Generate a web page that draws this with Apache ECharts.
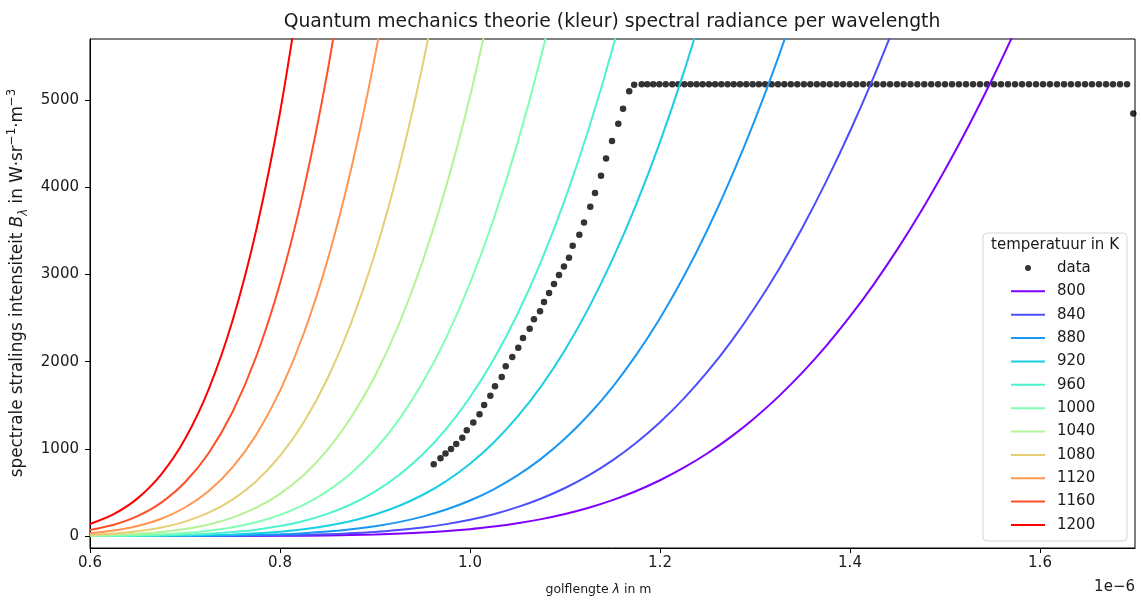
<!DOCTYPE html>
<html lang="nl">
<head>
<meta charset="UTF-8">
<title>Quantum mechanics theorie (kleur) spectral radiance per wavelength</title>
<script src="https://cdn.jsdelivr.net/npm/echarts@6/dist/echarts.min.js"></script>
<style>html,body{margin:0;padding:0;background:#fff;}</style>
</head>
<body>
<div id="main" style="width:1141px;height:601px;"></div>
<script>
// temperaturen (K) en kleuren (rainbow colormap)
var temps = ['800', '840', '880', '920', '960', '1000', '1040', '1080', '1120', '1160', '1200'];
var colors = ['#8000ff', '#4d4ffc', '#1a96f3', '#1acee3', '#4df3ce', '#80ffb4',
              '#b3f396', '#e6ce74', '#ff964f', '#ff4f28', '#ff0000'];

var lam800 = [0.6, 0.7, 0.8, 0.85, 0.9, 0.95, 1.0, 1.025, 1.05, 1.075, 1.1, 1.125, 1.15, 1.175, 1.2,
              1.225, 1.25, 1.275, 1.3, 1.325, 1.35, 1.375, 1.4, 1.425, 1.45, 1.475, 1.5, 1.525, 1.55, 1.575];
var rad800 = [0.006, 0.21, 2.7, 7.5, 18.2, 39.8, 79.4, 108.9, 146.5, 194, 253, 325.2, 412.4, 516.6, 639.7,
              783.5, 949.8, 1140.7, 1357.7, 1602, 1876.5, 2181, 2518, 2887, 3290, 3727, 4200, 4705, 5247, 5824];

var lam840 = [0.6, 0.7, 0.8, 0.85, 0.9, 0.925, 0.95, 0.975, 1.0, 1.025, 1.05, 1.075, 1.1, 1.125,
              1.15, 1.175, 1.2, 1.225, 1.25, 1.275, 1.3, 1.325, 1.35, 1.375, 1.4, 1.425, 1.45];
var rad840 = [0.03, 0.7, 7.9, 20.5, 47.2, 68.9, 98.1, 136.8, 187.1, 251, 331.3, 430.5, 551.1, 696.3,
              868.5, 1070.7, 1305.8, 1576, 1884.5, 2233, 2624, 3058, 3539, 4067, 4642, 5266, 5939];

var lam880 = [0.6, 0.7, 0.75, 0.8, 0.825, 0.85, 0.875, 0.9, 0.925, 0.95, 0.975, 1.0, 1.025,
              1.05, 1.075, 1.1, 1.125, 1.15, 1.175, 1.2, 1.225, 1.25, 1.275, 1.3, 1.325, 1.35];
var rad880 = [0.1, 2.2, 7.4, 20.9, 33.2, 51.3, 76.9, 112.2, 159.8, 222.7, 304.1, 407.5, 536.6,
              695.4, 888, 1118.5, 1391, 1709, 2077, 2498, 2976, 3513, 4113, 4775, 5504, 6301];

var lam920 = [0.6, 0.65, 0.7, 0.75, 0.775, 0.8, 0.825, 0.85, 0.875, 0.9, 0.925, 0.95, 0.975, 1.0,
              1.025, 1.05, 1.075, 1.1, 1.125, 1.15, 1.175, 1.2, 1.225, 1.25];
var rad920 = [0.32, 1.6, 6.1, 19.0, 31.7, 50.7, 78.7, 118.3, 173.2, 247.1, 344.7, 470.7, 630.5, 829.6,
              1073.6, 1368.6, 1720, 2134.5, 2617, 3172, 3804, 4518, 5317, 6204];

var lam960 = [0.6, 0.625, 0.65, 0.675, 0.7, 0.725, 0.75, 0.775, 0.8, 0.825, 0.85, 0.875, 0.9, 0.925,
              0.95, 0.975, 1.0, 1.025, 1.05, 1.075, 1.1, 1.125, 1.15, 1.175];
var rad960 = [0.94, 2.1, 4.3, 8.3, 15.4, 27, 45.4, 73.4, 114.6, 173.3, 254.7, 364.7, 509.8, 697.2,
              934.5, 1230, 1592, 2027, 2546, 3154, 3860, 4670, 5589, 6623];

var lam1000 = [0.6, 0.625, 0.65, 0.675, 0.7, 0.725, 0.75, 0.775, 0.8, 0.825, 0.85, 0.875, 0.9, 0.925,
               0.95, 0.975, 1.0, 1.025, 1.05, 1.075, 1.1];
var rad1000 = [2.5, 5.4, 10.8, 20.3, 36.2, 61.7, 100.9, 159.1, 242.4, 358.4, 515.7, 723.7, 992.3, 1333,
               1757, 2275, 2899, 3639, 4506, 5509, 6657];

var lam1040 = [0.6, 0.625, 0.65, 0.675, 0.7, 0.725, 0.75, 0.775, 0.8, 0.825, 0.85, 0.875, 0.9, 0.925,
               0.95, 0.975, 1.0, 1.025];
var rad1040 = [6.4, 13.1, 25.3, 46.0, 79.8, 132.4, 211.1, 324.8, 484.2, 701, 989, 1362, 1835, 2425,
               3146, 4013, 5041, 6244];

var lam1080 = [0.6, 0.625, 0.65, 0.675, 0.7, 0.725, 0.75, 0.775, 0.8, 0.825, 0.85, 0.875, 0.9, 0.925,
               0.95, 0.975];
var rad1080 = [15.0, 29.8, 55.6, 98.4, 165.9, 268.4, 418, 629, 919, 1305, 1807, 2446, 3243, 4219,
               5394, 6787];

var lam1120 = [0.6, 0.625, 0.65, 0.675, 0.7, 0.725, 0.75, 0.775, 0.8, 0.825, 0.85, 0.875, 0.9, 0.925];
var rad1120 = [33.2, 63.8, 115.6, 199, 327.4, 517.4, 788.3, 1162, 1665, 2323, 3163, 4214, 5503, 7057];

var lam1160 = [0.6, 0.625, 0.65, 0.675, 0.7, 0.725, 0.75, 0.775, 0.8, 0.825, 0.85, 0.875];
var rad1160 = [69.5, 129.6, 228.5, 383.6, 616.6, 953, 1423, 2059, 2897, 3973, 5326, 6991];

var lam1200 = [0.6, 0.625, 0.65, 0.675, 0.7, 0.725, 0.75, 0.775, 0.8, 0.825];
var rad1200 = [138.5, 251, 432, 708, 1113, 1686, 2469, 3510, 4857, 6558];

// meetdata
var dataLam = [0.9618, 0.9689, 0.9742, 0.98, 0.9855, 0.9919, 0.9966, 1.0035, 1.01, 1.0149,
               1.0214, 1.0263, 1.0334, 1.0376, 1.0445, 1.0508, 1.0558, 1.0628, 1.0673, 1.0737,
               1.0779, 1.0832, 1.0884, 1.0937, 1.0989, 1.1042, 1.1081, 1.1151, 1.12, 1.1266,
               1.1316, 1.1379, 1.1432, 1.1495, 1.1561, 1.1611, 1.1676, 1.1728,
               1.1807, 1.1866, 1.1929, 1.1993, 1.2060, 1.2129, 1.2193, 1.2257, 1.2321, 1.2385,
               1.2449, 1.2515, 1.2580, 1.2645, 1.2711, 1.2776, 1.2842, 1.2908, 1.2975, 1.3041,
               1.3107, 1.3175, 1.3242, 1.3309, 1.3377, 1.3445, 1.3514, 1.3582, 1.3651, 1.3719,
               1.3788, 1.3858, 1.3927, 1.3997, 1.4067, 1.4138, 1.4208, 1.4279, 1.4351, 1.4422,
               1.4494, 1.4565, 1.4637, 1.4709, 1.4782, 1.4855, 1.4927, 1.5, 1.5074, 1.5147,
               1.5221, 1.5295, 1.5368, 1.5442, 1.5516, 1.5589, 1.5663, 1.5737, 1.5811, 1.5884,
               1.5958, 1.6032, 1.6105, 1.6179, 1.6253, 1.6326, 1.64, 1.6474, 1.6547, 1.6621,
               1.6695, 1.6768, 1.6842, 1.6916, 1.6982];
var dataRad = [822, 891, 948, 998, 1055, 1127, 1213, 1302, 1396, 1502,
               1609, 1717, 1823, 1946, 2053, 2159, 2271, 2377, 2485, 2577,
               2683, 2787, 2890, 2993, 3091, 3192, 3329, 3455, 3597, 3776,
               3933, 4132, 4331, 4530, 4727, 4900, 5101, 5175,
               5180, 5180, 5180, 5180, 5180, 5180, 5180, 5180, 5180, 5180,
               5180, 5180, 5180, 5180, 5180, 5180, 5180, 5180, 5180, 5180,
               5180, 5180, 5180, 5180, 5180, 5180, 5180, 5180, 5180, 5180,
               5180, 5180, 5180, 5180, 5180, 5180, 5180, 5180, 5180, 5180,
               5180, 5180, 5180, 5180, 5180, 5180, 5180, 5180, 5180, 5180,
               5180, 5180, 5180, 5180, 5180, 5180, 5180, 5180, 5180, 5180,
               5180, 5180, 5180, 5180, 5180, 5180, 5180, 5180, 5180, 5180,
               5180, 5180, 5180, 5180, 4847];

// ticks
var xTicks = [0.6, 0.8, 1.0, 1.2, 1.4, 1.6];
var yTicks = [0, 1000, 2000, 3000, 4000, 5000];

var curves = [
    [lam800, rad800], [lam840, rad840], [lam880, rad880], [lam920, rad920],
    [lam960, rad960], [lam1000, rad1000], [lam1040, rad1040], [lam1080, rad1080],
    [lam1120, rad1120], [lam1160, rad1160], [lam1200, rad1200]
];

var font = 'DejaVu Sans';
var txt = '#1a1a1a';

var chart = echarts.init(document.getElementById('main'), null, {renderer: 'canvas'});

var series = [{
    name: 'data',
    type: 'scatter',
    symbol: 'circle',
    symbolSize: 6.5,
    itemStyle: {color: '#000'},
    data: dataLam.map(function (x, i) { return [x, dataRad[i]]; }),
    z: 2
}];

curves.forEach(function (c, k) {
    series.push({
        name: temps[k],
        type: 'line',
        symbol: 'none',
        smooth: 0.3,
        clip: true,
        color: colors[k],
        lineStyle: {width: 2, color: colors[k]},
        data: c[0].map(function (x, i) { return [x, c[1][i]]; }),
        z: 3
    });
});

var legendData = [{name: 'data', icon: 'circle'}].concat(temps);

chart.setOption({
    animation: false,
    backgroundColor: '#fff',
    grid: {
        left: 90, top: 39, width: 1045, height: 509,
        show: true, borderColor: '#000', borderWidth: 1, backgroundColor: 'transparent'
    },
    xAxis: {
        type: 'value', min: 0.6, max: 1.7,
        axisLine: {show: true, onZero: false, lineStyle: {color: '#000', width: 1}},
        axisTick: {show: true, length: 5, customValues: xTicks, lineStyle: {color: '#000'}},
        axisLabel: {
            customValues: xTicks, margin: 8, color: txt, fontSize: 15, fontFamily: font,
            formatter: function (v) { return v.toFixed(1); }
        },
        splitLine: {show: false}
    },
    yAxis: {
        type: 'value', min: -137, max: 5700,
        axisLine: {show: true, onZero: false, lineStyle: {color: '#000', width: 1}},
        axisTick: {show: true, length: 5, customValues: yTicks, lineStyle: {color: '#000'}},
        axisLabel: {
            customValues: yTicks, margin: 11, color: txt, fontSize: 15, fontFamily: font,
            formatter: function (v) { return String(v); }
        },
        splitLine: {show: false}
    },
    legend: {
        data: legendData,
        orient: 'vertical',
        left: 1011, top: 260.5,
        padding: 0,
        icon: 'path://M0,0h34v2h-34z',
        symbolKeepAspect: true,
        itemWidth: 34, itemHeight: 6, itemGap: 8.36,
        textStyle: {fontSize: 15, fontFamily: font, color: txt, lineHeight: 14, padding: [0, 0, 0, 7]},
        z: 10
    },
    graphic: [
        {
            type: 'text', x: 612, y: 22, z: 20,
            style: {
                text: 'Quantum mechanics theorie (kleur) spectral radiance per wavelength',
                fontSize: 18.8, fontFamily: font, fill: txt, align: 'center', verticalAlign: 'middle'
            }
        },
        {
            type: 'text', x: 598.5, y: 590, z: 20,
            style: {
                text: 'golflengte {i|λ} in m',
                fontSize: 12.5, fontFamily: font, fill: txt, align: 'center', verticalAlign: 'middle',
                rich: {i: {fontSize: 12.5, fontFamily: font, fontStyle: 'italic', fill: txt}}
            }
        },
        {
            type: 'text', x: 1135, y: 587, z: 20,
            style: {
                text: '1e\u22126',
                fontSize: 15, fontFamily: font, fill: txt, align: 'right', verticalAlign: 'middle'
            }
        },
        {
            type: 'text', x: 18, y: 283, rotation: Math.PI / 2, z: 20,
            style: {
                text: 'spectrale stralings intensiteit {i|B}{s|λ} in W·sr{p|\u22121}·m{p|\u22123}',
                fontSize: 16.8, fontFamily: font, fill: txt, align: 'center', verticalAlign: 'middle',
                lineHeight: 24,
                rich: {
                    i: {fontSize: 16.8, fontFamily: font, fontStyle: 'italic', fill: txt, lineHeight: 24},
                    s: {fontSize: 11.8, fontFamily: font, fontStyle: 'italic', fill: txt, lineHeight: 13, verticalAlign: 'bottom'},
                    p: {fontSize: 11.8, fontFamily: font, fill: txt, lineHeight: 13, verticalAlign: 'top'}
                }
            }
        },
        // legenda kader
        {
            type: 'rect', z: 5,
            shape: {x: 983, y: 233, width: 144, height: 308, r: 4},
            style: {fill: 'rgba(255,255,255,0.85)', stroke: '#d5d5d5', lineWidth: 1}
        },
        {
            type: 'text', x: 1055, y: 245, z: 20,
            style: {
                text: 'temperatuur in K',
                fontSize: 15, fontFamily: font, fill: txt, align: 'center', verticalAlign: 'middle'
            }
        }
    ],
    series: series
});
</script>
</body>
</html>
